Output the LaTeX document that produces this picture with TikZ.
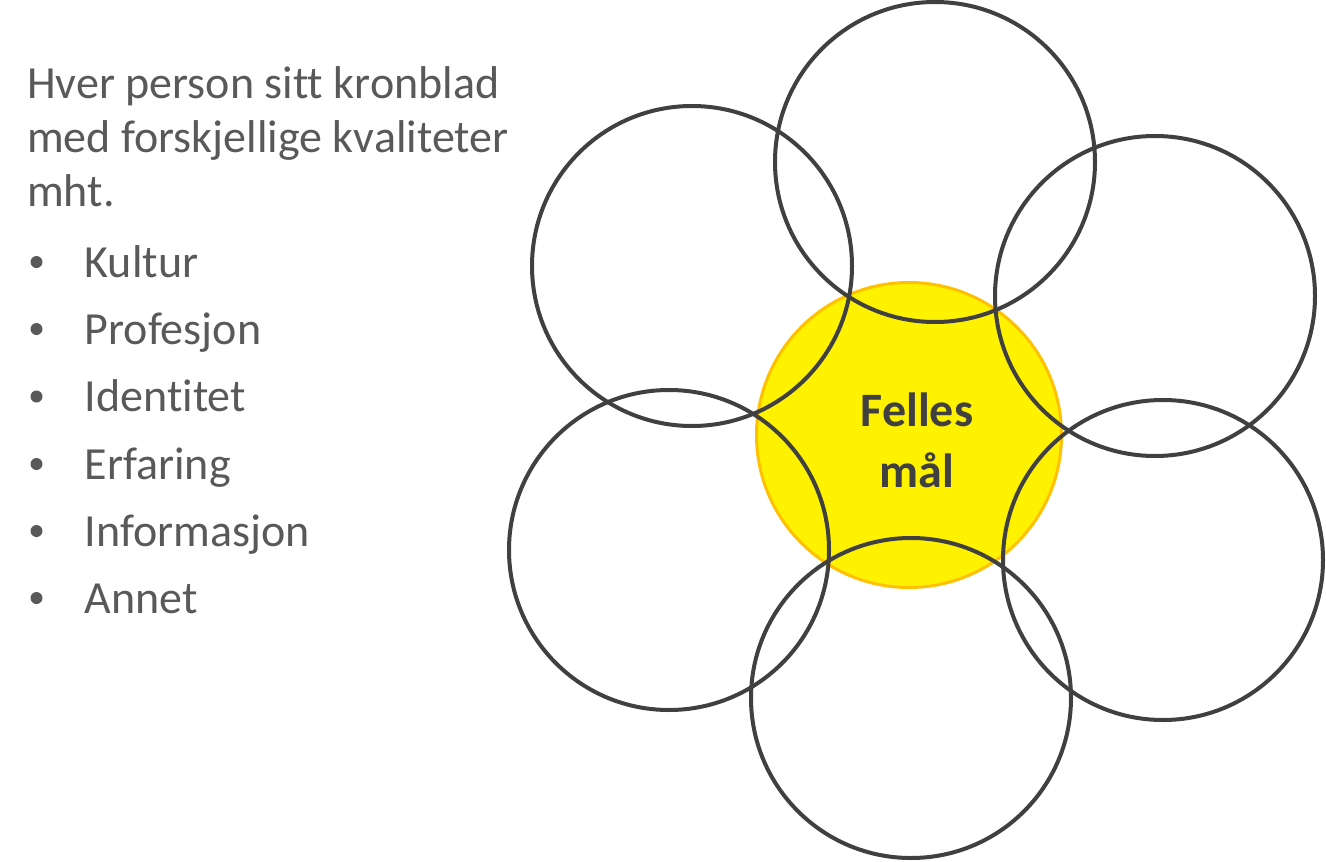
\documentclass[tikz,border=0pt]{standalone}
\usepackage{fontspec}
\setmainfont[Ligatures=NoCommon]{Carlito}
\usetikzlibrary{positioning}
\definecolor{petalgray}{HTML}{404040}
\definecolor{textgray}{HTML}{595959}
\definecolor{goldline}{HTML}{FFC000}
\tikzset{
  % Petal circle
  petal/.style={draw=petalgray, line width=4pt, shape=circle,
    minimum size=320pt, inner sep=0pt},
  % Centre circle
  centre/.style={draw=goldline, fill=yellow, line width=3pt,
    shape=circle, minimum size=305pt, inner sep=0pt},
  % Text lines
  txt/.style={text=textgray, anchor=base west, inner sep=0pt,
    font=\fontsize{46}{54}\selectfont},
  % Bullet dot
  dot/.style={fill=textgray, shape=circle, minimum size=12pt,
    inner sep=0pt},
  % Goal text
  goal/.style={text=petalgray, align=center, inner sep=0pt,
    font=\fontsize{48}{61}\selectfont\bfseries},
}
\begin{document}
\begin{tikzpicture}[x=1pt, y=-1pt]
  \useasboundingbox (0,0) rectangle (1326,862);

  % intro text
  \node[txt] (l1) at (27,98) {Hver person sitt kronblad};
  \node[txt] (l2) at (27,152) {med forskjellige kvaliteter};
  \node[txt] (l3) at (27,206) {mht.};

  % list
  \node[dot] (b1) at (36.5,262) {};
  \node[dot] (b2) at (36.5,329) {};
  \node[dot] (b3) at (36.5,396.5) {};
  \node[dot] (b4) at (36.5,464) {};
  \node[dot] (b5) at (36.5,531) {};
  \node[dot] (b6) at (36.5,598) {};
  \node[txt] (i1) at (84.5,277) {Kultur};
  \node[txt] (i2) at (84.5,344) {Profesjon};
  \node[txt] (i3) at (84.5,411.5) {Identitet};
  \node[txt] (i4) at (84.5,479) {Erfaring};
  \node[txt] (i5) at (84.5,546) {Informasjon};
  \node[txt] (i6) at (84.5,613) {Annet};

  % flower
  \node[centre] (c) at (909,435) {};

  \node[petal] (p1) at (935,162) {};
  \node[petal] (p2) at (1155,296) {};
  \node[petal] (p3) at (1163,560) {};
  \node[petal] (p4) at (911,698) {};
  \node[petal] (p5) at (669,550) {};
  \node[petal] (p6) at (692,266) {};

  \node[goal] (g) at (917,440) {Felles\\mål};
\end{tikzpicture}
\end{document}
